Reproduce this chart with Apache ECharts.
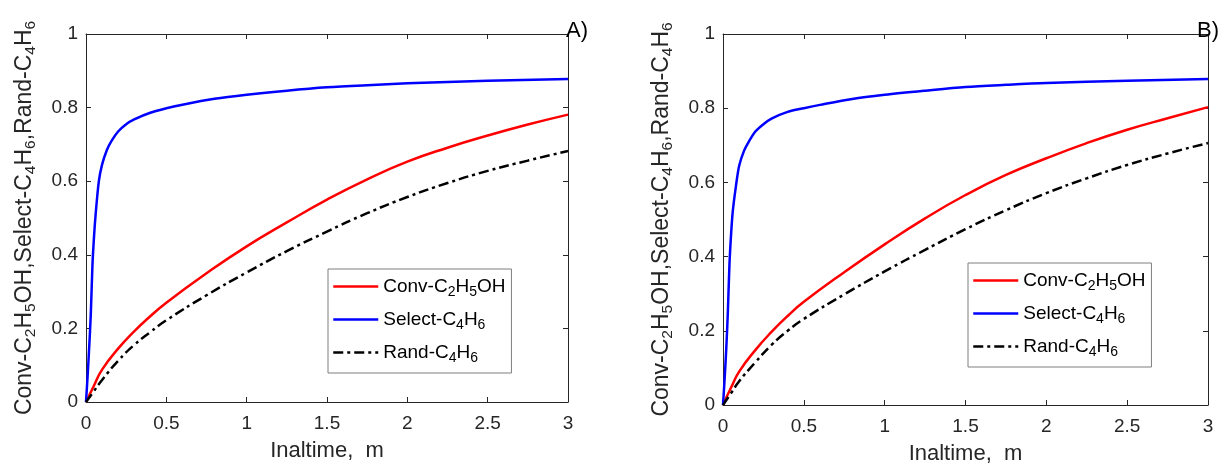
<!DOCTYPE html>
<html>
<head>
<meta charset="utf-8">
<script src="https://cdn.jsdelivr.net/npm/echarts@6/dist/echarts.min.js"></script>
<style>html,body{margin:0;padding:0;background:#fff}#c{width:1224px;height:464px}</style>
</head>
<body>
<div id="c"></div>
<script>
// ---- data ----
const xTicks = [0, 0.5, 1, 1.5, 2, 2.5, 3];
const yTicks = [0, 0.2, 0.4, 0.6, 0.8, 1];
const seriesNames = ['Conv-C2H5OH', 'Select-C4H6', 'Rand-C4H6'];
const panelTitles = ['A)', 'B)'];

const xBlue = [0, 0.01, 0.02, 0.03, 0.04, 0.05, 0.06, 0.08, 0.1, 0.13, 0.16, 0.2, 0.25, 0.3, 0.4, 0.5, 0.6, 0.8, 1.0, 1.25, 1.5, 1.75, 2.0, 2.5, 3.0];
const blueA = [0, 0.07, 0.15, 0.24, 0.37, 0.45, 0.51, 0.60, 0.645, 0.685, 0.71, 0.735, 0.755, 0.768, 0.786, 0.798, 0.808, 0.824, 0.835, 0.846, 0.855, 0.861, 0.866, 0.873, 0.878];
const blueB = [0, 0.07, 0.15, 0.25, 0.38, 0.46, 0.52, 0.59, 0.645, 0.685, 0.71, 0.737, 0.757, 0.772, 0.79, 0.80, 0.809, 0.825, 0.836, 0.847, 0.857, 0.863, 0.868, 0.874, 0.879];

const xConv = [0, 0.05, 0.1, 0.2, 0.3, 0.4, 0.5, 0.75, 1.0, 1.25, 1.5, 1.75, 2.0, 2.25, 2.5, 2.75, 3.0];
const convA = [0, 0.045, 0.088, 0.145, 0.192, 0.233, 0.27, 0.35, 0.423, 0.488, 0.55, 0.605, 0.653, 0.691, 0.724, 0.754, 0.781];
const convB = [0, 0.047, 0.09, 0.148, 0.197, 0.24, 0.278, 0.358, 0.433, 0.503, 0.566, 0.62, 0.665, 0.706, 0.742, 0.773, 0.803];
const randA = [0, 0.03, 0.06, 0.112, 0.155, 0.19, 0.222, 0.29, 0.352, 0.41, 0.463, 0.513, 0.557, 0.595, 0.628, 0.656, 0.682];
const randB = [0, 0.032, 0.064, 0.115, 0.162, 0.2, 0.232, 0.298, 0.36, 0.418, 0.474, 0.525, 0.571, 0.611, 0.647, 0.678, 0.706];

// ---- chart ----
const FONT = 'Liberation Sans, Arial, sans-serif';
const AX = '#262626';
const zip = (xs, ys) => xs.map((x, i) => [x, ys[i]]);
const sub = s => s.replace(/(\d)/g, '{s|$1}');

const grids = [
  { left: 86, top: 34, width: 482, height: 368, outerBoundsMode: 'none', containLabel: false },
  { left: 723, top: 34, width: 485, height: 371, outerBoundsMode: 'none', containLabel: false }
];
const legendPos = [{ left: 328, top: 269 }, { left: 968, top: 263 }];
const titlePos = [{ left: 566, top: 20 }, { left: 1197, top: 20 }];

const xAxes = [], yAxes = [], series = [], legends = [], titles = [];
grids.forEach((g, gi) => {
  const base = {
    type: 'value', gridIndex: gi,
    axisLine: { show: true, onZero: false, lineStyle: { color: AX, width: 1 } },
    axisTick: { show: true, inside: true, length: 5, lineStyle: { color: AX } },
    splitLine: { show: false }
  };
  xAxes.push(Object.assign({}, base, {
    position: 'bottom', min: xTicks[0], max: xTicks[xTicks.length - 1], interval: xTicks[1] - xTicks[0],
    axisLabel: { color: AX, fontSize: 19, fontFamily: FONT, margin: 12 },
    name: 'Inaltime,  m', nameLocation: 'middle', nameGap: 38,
    nameTextStyle: { color: AX, fontSize: 22, fontFamily: FONT }
  }));
  xAxes.push(Object.assign({}, base, {
    position: 'top', min: xTicks[0], max: xTicks[xTicks.length - 1], interval: xTicks[1] - xTicks[0],
    axisLabel: { show: false }
  }));
  yAxes.push(Object.assign({}, base, {
    position: 'left', min: yTicks[0], max: yTicks[yTicks.length - 1], interval: yTicks[1] - yTicks[0],
    axisLabel: { color: AX, fontSize: 19, fontFamily: FONT, margin: 8 },
    name: sub('Conv-C2H5OH,Select-C4H6,Rand-C4H6'), nameLocation: 'middle', nameGap: 47, nameRotate: 90,
    nameTextStyle: { color: AX, fontSize: 23, fontFamily: FONT,
      rich: { s: { fontSize: 15.5, fontFamily: FONT, color: AX, padding: [13, 0, 0, 0] } } }
  }));
  yAxes.push(Object.assign({}, base, {
    position: 'right', min: yTicks[0], max: yTicks[yTicks.length - 1], interval: yTicks[1] - yTicks[0],
    axisLabel: { show: false }
  }));
  const xi = gi * 2, yi = gi * 2;
  const conv = gi === 0 ? convA : convB;
  const blue = gi === 0 ? blueA : blueB;
  const rand = gi === 0 ? randA : randB;
  const common = { type: 'line', xAxisIndex: xi, yAxisIndex: yi, symbol: 'none', showSymbol: false,
    animation: false, z: 3 };
  series.push(Object.assign({}, common, { name: seriesNames[0], data: zip(xConv, conv), smooth: 0.5,
    lineStyle: { color: '#ff0000', width: 2.5 }, itemStyle: { color: '#ff0000' } }));
  series.push(Object.assign({}, common, { name: seriesNames[1], data: zip(xBlue, blue), smooth: 0.3,
    lineStyle: { color: '#0000ff', width: 2.5 }, itemStyle: { color: '#0000ff' } }));
  series.push(Object.assign({}, common, { name: seriesNames[2], data: zip(xConv, rand), smooth: 0.5,
    lineStyle: { color: '#000000', width: 2.5, type: [10, 4, 3, 4] }, itemStyle: { color: '#000000' } }));
  legends.push({
    orient: 'vertical', left: legendPos[gi].left, top: legendPos[gi].top,
    data: seriesNames, itemWidth: 45, itemHeight: 14, itemGap: 11,
    padding: [8, 6, 8, 4], borderColor: '#7f7f7f', borderWidth: 1, backgroundColor: '#ffffff',
    itemStyle: { opacity: 0, borderWidth: 0 },
    lineStyle: { width: 2.5 },
    formatter: name => sub(name), selectedMode: false,
    textStyle: { color: '#000', fontSize: 19, fontFamily: FONT,
      rich: { s: { fontSize: 14, fontFamily: FONT, color: '#000', padding: [11, 0, 0, 0] } } }
  });
  titles.push({ text: panelTitles[gi], left: titlePos[gi].left, top: titlePos[gi].top, padding: 0,
    textStyle: { color: '#000', fontSize: 22, fontWeight: 'normal', fontFamily: FONT } });
});

const chart = echarts.init(document.getElementById('c'), null, { renderer: 'canvas' });
chart.setOption({
  animation: false,
  backgroundColor: '#ffffff',
  title: titles,
  grid: grids,
  xAxis: xAxes,
  yAxis: yAxes,
  legend: legends,
  series: series
});
</script>
</body>
</html>
